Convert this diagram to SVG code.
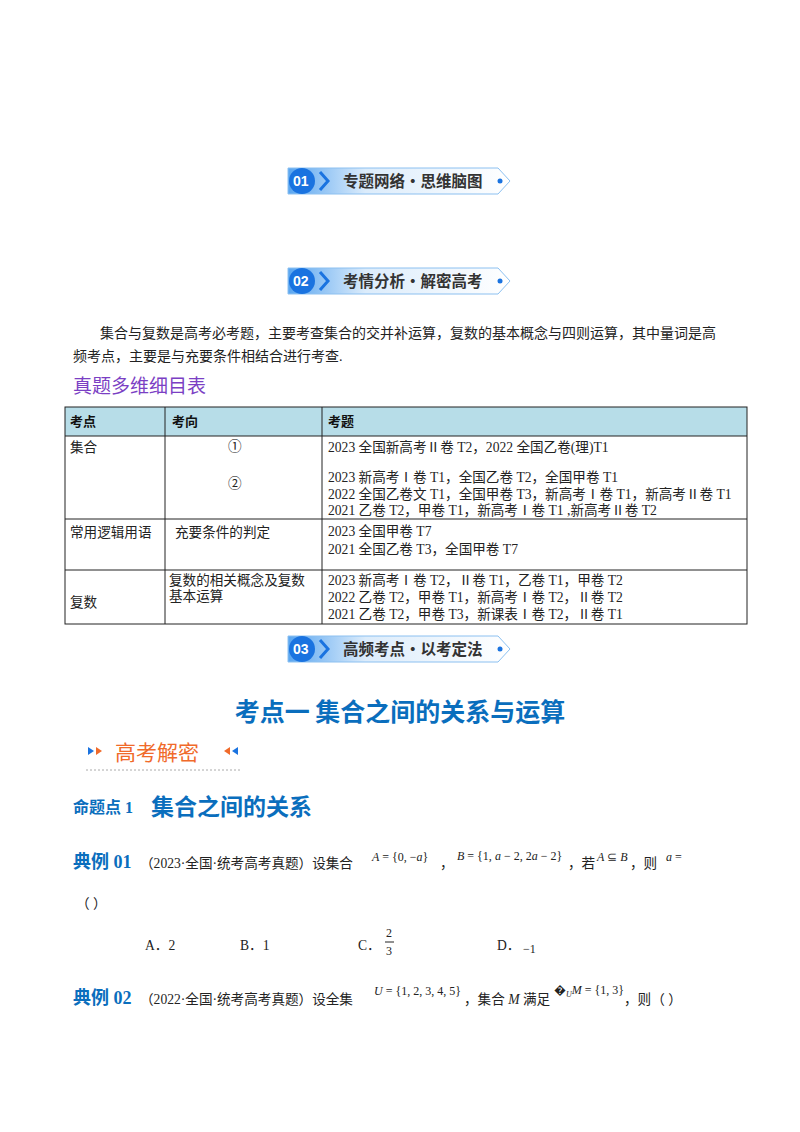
<svg xmlns="http://www.w3.org/2000/svg" width="800" height="1132" viewBox="0 0 800 1132">
<defs>
<linearGradient id="bg" x1="0" x2="1" y1="0" y2="0"><stop offset="0" stop-color="#5aa6f0"/><stop offset="0.35" stop-color="#dcecfb"/><stop offset="1" stop-color="#ffffff"/></linearGradient>
<g id="banner">
<path d="M0,-13 H210 L222,0 L210,13 H0 Z" fill="url(#bg)" stroke="#8cc0f0" stroke-width="1"/>
<circle cx="14" cy="0" r="13" fill="#1a73e0"/>
<path d="M32,-9 L40,0 L32,9" fill="none" stroke="#1a73e0" stroke-width="3"/>
<circle cx="212" cy="0" r="2.5" fill="#1a73e0"/>
</g>
</defs>
<style>
.s{font-family:"Liberation Serif","Noto Sans CJK SC",serif;fill:#222}
.t{font-size:13.6px}
.h{font-family:"Noto Sans CJK SC",sans-serif;font-weight:bold;fill:#0a6ebd}
.bn{font-family:"Noto Sans CJK SC",sans-serif;font-weight:bold;font-size:15.5px;fill:#333}
.num{font-family:"Liberation Sans",sans-serif;font-weight:bold;font-size:14px;fill:#fff}
.m{font-family:"Liberation Serif",serif;font-style:italic;font-size:12px;fill:#222}
.ln{stroke:#222;stroke-width:1;fill:none}
</style>
<rect width="800" height="1132" fill="#fff"/>
<g id="banner01" transform="translate(288,181)"><use href="#banner"/><text class="num" x="5" y="5">01</text><text class="bn" x="55" y="6">专题网络•思维脑图</text></g>
<g id="banner02" transform="translate(288,281)"><use href="#banner"/><text class="num" x="5" y="5">02</text><text class="bn" x="55" y="6">考情分析•解密高考</text></g>
<text class="s" font-size="14" x="100" y="338">集合与复数是高考必考题，主要考查集合的交并补运算，复数的基本概念与四则运算，其中量词是高</text>
<text class="s" font-size="14" x="73" y="361">频考点，主要是与充要条件相结合进行考查.</text>
<text x="73" y="393" font-family="Noto Sans CJK SC,sans-serif" font-size="19" fill="#7b3fc4">真题多维细目表</text>
<g id="table">
<rect x="65" y="407" width="682" height="29" fill="#b7dde8"/>
<rect x="65" y="407" width="682" height="217" class="ln"/>
<path class="ln" d="M65,436 H747 M65,519 H747 M65,570 H747 M165,407 V624 M322,407 V624"/>
<g font-family="Noto Sans CJK SC,sans-serif" font-weight="bold" font-size="13" fill="#111"><text x="70" y="426">考点</text><text x="172" y="426">考向</text><text x="328" y="426">考题</text></g>
<text class="s t" x="70" y="452">集合</text>
<text class="s t" x="228" y="451">①</text>
<text class="s t" x="228" y="488">②</text>
<text class="s t" x="328" y="452">2023 全国新高考Ⅱ卷 T2，2022 全国乙卷(理)T1</text>
<text class="s t" x="328" y="482">2023 新高考Ⅰ卷 T1，全国乙卷 T2，全国甲卷 T1</text>
<text class="s t" x="328" y="499">2022 全国乙卷文 T1，全国甲卷 T3，新高考Ⅰ卷 T1，新高考Ⅱ卷 T1</text>
<text class="s t" x="328" y="515">2021 乙卷 T2，甲卷 T1，新高考Ⅰ卷 T1 ,新高考Ⅱ卷 T2</text>
<text class="s t" x="70" y="537">常用逻辑用语</text>
<text class="s t" x="175" y="537">充要条件的判定</text>
<text class="s t" x="328" y="536">2023 全国甲卷 T7</text>
<text class="s t" x="328" y="554">2021 全国乙卷 T3，全国甲卷 T7</text>
<text class="s t" x="169" y="585">复数的相关概念及复数</text>
<text class="s t" x="169" y="601">基本运算</text>
<text class="s t" x="70" y="607">复数</text>
<text class="s t" x="328" y="585">2023 新高考Ⅰ卷 T2，Ⅱ卷 T1，乙卷 T1，甲卷 T2</text>
<text class="s t" x="328" y="602">2022 乙卷 T2，甲卷 T1，新高考Ⅰ卷 T2，Ⅱ卷 T2</text>
<text class="s t" x="328" y="619">2021 乙卷 T2，甲卷 T3，新课表Ⅰ卷 T2，Ⅱ卷 T1</text>
</g>
<g id="banner03" transform="translate(288,649)"><use href="#banner"/><text class="num" x="5" y="5">03</text><text class="bn" x="55" y="6">高频考点•以考定法</text></g>
<text class="h" x="400" y="721" font-size="25" text-anchor="middle">考点一  集合之间的关系与运算</text>
<g id="gkjm">
<path d="M88,747 l6,4 l-6,4 Z" fill="#1a73e0"/><path d="M96,747 l6,4 l-6,4 Z" fill="#f06a2a"/>
<text x="115" y="760" font-family="Noto Sans CJK SC,sans-serif" font-size="21" fill="#f06a2a">高考解密</text>
<path d="M230,747 l-6,4 l6,4 Z" fill="#f06a2a"/><path d="M238,747 l-6,4 l6,4 Z" fill="#1a73e0"/>
<line x1="86" y1="770" x2="240" y2="770" stroke="#aaa" stroke-dasharray="2,2"/>
</g>
<text class="h" x="73" y="813" font-size="16">命题点<tspan font-family="Liberation Serif,serif"> 1</tspan></text>
<text class="h" x="151" y="815" font-size="23">集合之间的关系</text>
<text x="73" y="868" font-family="Liberation Serif,Noto Sans CJK SC,serif" font-weight="bold" font-size="18" fill="#0a6ebd">典例 01</text>
<text class="s t" x="140" y="868">（2023·全国·统考高考真题）设集合</text>
<text class="m" x="372" y="861">A <tspan font-style="normal">= {0, −</tspan>a<tspan font-style="normal">}</tspan></text>
<text class="s t" x="440" y="868">，</text>
<text class="m" x="457" y="860">B <tspan font-style="normal">= {1, </tspan>a<tspan font-style="normal"> − 2, 2</tspan>a<tspan font-style="normal"> − 2}</tspan></text>
<text class="s t" x="568" y="868">，若</text>
<text class="m" x="597" y="861">A <tspan font-style="normal">⊆</tspan> B</text>
<text class="s t" x="630" y="868">，则</text>
<text class="m" x="666" y="861">a <tspan font-style="normal">=</tspan></text>
<text class="s t" x="76" y="908">（    ）</text>
<text class="s t" x="145" y="950">A．2</text>
<text class="s t" x="240" y="950">B．1</text>
<text class="s t" x="358" y="950">C．</text>
<text class="s" font-size="12" x="386" y="937">2</text><line x1="385" y1="942" x2="394" y2="942" stroke="#222"/><text class="s" font-size="12" x="386" y="955">3</text>
<text class="s t" x="497" y="950">D．</text>
<text class="s" font-size="12" x="523" y="953">−1</text>
<text x="73" y="1004" font-family="Liberation Serif,Noto Sans CJK SC,serif" font-weight="bold" font-size="18" fill="#0a6ebd">典例 02</text>
<text class="s t" x="140" y="1004">（2022·全国·统考高考真题）设全集</text>
<text class="m" x="374" y="995">U <tspan font-style="normal">= {1, 2, 3, 4, 5}</tspan></text>
<text class="s t" x="464" y="1004">，集合 <tspan font-style="italic">M</tspan> 满足</text>
<text class="m" x="554" y="994"><tspan font-style="normal">�</tspan><tspan font-size="8" dy="3">U</tspan><tspan dy="-3">M</tspan><tspan font-style="normal"> = {1, 3}</tspan></text>
<text class="s t" x="624" y="1004">，则（    ）</text>
</svg>
